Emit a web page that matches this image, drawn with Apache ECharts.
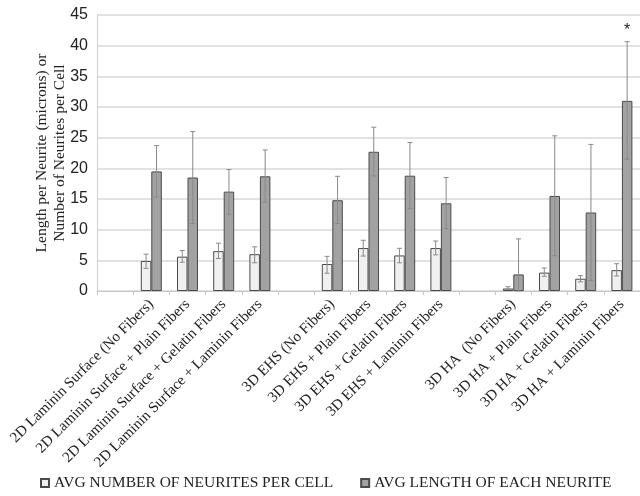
<!DOCTYPE html>
<html>
<head>
<meta charset="utf-8">
<script src="https://cdn.jsdelivr.net/npm/echarts@6/dist/echarts.min.js"></script>
<style>html,body{margin:0;padding:0;background:#fff}#c{width:640px;height:496px}</style>
</head>
<body>
<div id="c"></div>
<script>
const categories = ['',
  '2D Laminin Surface (No Fibers)', '2D Laminin Surface + Plain Fibers', '2D Laminin Surface + Gelatin Fibers', '2D Laminin Surface + Laminin Fibers',
  ' ',
  '3D EHS (No Fibers)', '3D EHS + Plain Fibers', '3D EHS + Gelatin Fibers', '3D EHS + Laminin Fibers',
  '  ',
  '3D HA  (No Fibers)', '3D HA + Plain Fibers', '3D HA + Gelatin Fibers', '3D HA + Laminin Fibers'];
const seriesNames = ['AVG NUMBER OF NEURITES PER CELL', 'AVG LENGTH OF EACH NEURITE'];
const neuritesPerCell = [null, 4.9, 5.6, 6.5, 6.0, null, 4.4, 7.0, 5.8, 7.0, null, 0.4, 3.0, 2.0, 3.4];
const neuritesPerCellLow = [null, 3.7, 4.7, 5.3, 4.6, null, 2.9, 5.7, 4.6, 5.9, null, 0.27, 2.4, 1.5, 2.45];
const neuritesPerCellHigh = [null, 6.0, 6.6, 7.8, 7.2, null, 5.65, 8.27, 6.96, 8.15, null, 0.7, 3.75, 2.5, 4.45];
const neuriteLength = [null, 19.5, 18.5, 16.2, 18.7, null, 14.8, 22.7, 18.8, 14.3, null, 2.7, 15.5, 12.8, 31.0];
const neuriteLengthLow = [null, 15.3, 11.0, 12.5, 14.5, null, 11.0, 18.75, 13.4, 10.2, null, 0, 5.75, 1.7, 21.5];
const neuriteLengthHigh = [null, 23.7, 26.0, 19.8, 23.0, null, 18.7, 26.7, 24.2, 18.5, null, 8.5, 25.3, 23.9, 40.65];
const lengthMarks = ['', '', '', '', '', '', '', '', '', '', '', '', '', '', '*'];
const yTicks = [0, 5, 10, 15, 20, 25, 30, 35, 40, 45];

const BAR_W = 10.5;
function errData(low, high, marks) {
  const out = [];
  for (let i = 0; i < low.length; i++) {
    if (low[i] == null) continue;
    out.push([i, low[i], high[i], marks ? marks[i] : '']);
  }
  return out;
}
function errRender(offset) {
  return function (params, api) {
    const i = api.value(0);
    const lo = api.coord([i, api.value(1)]);
    const hi = api.coord([i, api.value(2)]);
    const x = lo[0] + offset;
    const cap = 2.5;
    const st = { stroke: '#8a8a8a', lineWidth: 1 };
    const children = [
      { type: 'line', shape: { x1: x, y1: lo[1], x2: x, y2: hi[1] }, style: st },
      { type: 'line', shape: { x1: x - cap, y1: lo[1], x2: x + cap, y2: lo[1] }, style: st },
      { type: 'line', shape: { x1: x - cap, y1: hi[1], x2: x + cap, y2: hi[1] }, style: st }
    ];
    const mark = api.value(3);
    if (mark) {
      children.push({ type: 'text', style: { text: mark, x: x, y: hi[1] - 3, align: 'center', verticalAlign: 'bottom', fontSize: 16, fontFamily: 'Liberation Sans', fill: '#222' } });
    }
    return { type: 'group', children: children };
  };
}

const chart = echarts.init(document.getElementById('c'), null, { renderer: 'canvas' });
chart.setOption({
  animation: false,
  backgroundColor: '#fff',
  grid: { left: 97, top: 15, width: 547, bottom: 205, containLabel: false },
  legend: {
    data: seriesNames,
    bottom: 0,
    left: 35,
    icon: 'rect',
    itemWidth: 8,
    itemHeight: 8,
    itemGap: 27,
    textStyle: { fontFamily: 'Liberation Serif', fontSize: 15.5, color: '#222' }
  },
  xAxis: {
    type: 'category',
    data: categories,
    axisLine: { lineStyle: { color: '#c8c8c8' } },
    axisTick: { show: true, length: 4, lineStyle: { color: '#c8c8c8' } },
    axisLabel: { interval: 0, rotate: 45, margin: 11, fontFamily: 'Liberation Serif', fontSize: 15, color: '#222' }
  },
  yAxis: {
    type: 'value',
    min: yTicks[0], max: yTicks[yTicks.length - 1], interval: 5,
    name: 'Length per Neurite (microns) or\nNumber of Neurites per Cell',
    nameLocation: 'middle',
    nameGap: 28,
    nameMoveOverlap: false,
    nameTextStyle: { fontFamily: 'Liberation Serif', fontSize: 15.5, color: '#222', lineHeight: 18 },
    axisLine: { show: true, lineStyle: { color: '#d0d0d0' } },
    axisTick: { show: false },
    axisLabel: { fontFamily: 'Liberation Sans', fontSize: 16, color: '#222', margin: 9 },
    splitLine: { lineStyle: { color: '#d9d9d9', width: 1.5 } }
  },
  series: [
    {
      name: seriesNames[0], type: 'bar', data: neuritesPerCell, barWidth: BAR_W, barGap: '0%',
      itemStyle: { color: '#f0f0f0', borderColor: '#4a4a4a', borderWidth: 1 }
    },
    {
      name: seriesNames[1], type: 'bar', data: neuriteLength, barWidth: BAR_W, barGap: '0%',
      itemStyle: { color: '#a2a2a2', borderColor: '#4a4a4a', borderWidth: 1 }
    },
    {
      type: 'custom', data: errData(neuritesPerCellLow, neuritesPerCellHigh), renderItem: errRender(-BAR_W / 2),
      encode: { x: 0, y: [1, 2] }, z: 5, silent: true
    },
    {
      type: 'custom', data: errData(neuriteLengthLow, neuriteLengthHigh, lengthMarks), renderItem: errRender(BAR_W / 2),
      encode: { x: 0, y: [1, 2] }, z: 5, silent: true
    }
  ]
});
</script>
</body>
</html>
